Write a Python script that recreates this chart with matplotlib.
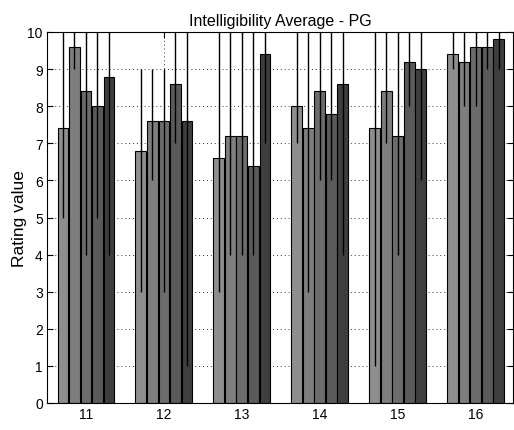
import numpy as np
import matplotlib
matplotlib.use("Agg")
import matplotlib.pyplot as plt

plt.rcParams['font.family'] = ['Liberation Sans', 'DejaVu Sans']

groups = [11, 12, 13, 14, 15, 16]
group_labels = ['11', '12', '13', '14', '15', '16']

means = [
    [7.4, 6.8, 6.6, 8.0, 7.4, 9.4],
    [9.6, 7.6, 7.2, 7.4, 8.4, 9.2],
    [8.4, 7.6, 7.2, 8.4, 7.2, 9.6],
    [8.0, 8.6, 6.4, 7.8, 9.2, 9.6],
    [8.8, 7.6, 9.4, 8.6, 9.0, 9.8],
]
lower_ends = [
    [5, 3, 3, 7, 1, 9],
    [9, 6, 4, 3, 7, 8],
    [4, 3, 4, 6, 4, 8],
    [5, 7, 4, 6, 8, 9],
    [4, 1, 7, 4, 6, 9],
]
upper_ends = [
    [10.5, 9, 10.5, 10.5, 10.5, 10.5],
    [10.5, 9, 10.5, 10.5, 10.5, 10.5],
    [10.5, 9, 10.5, 10.5, 10.5, 10.5],
    [10.5, 10.5, 10.5, 10.5, 10.5, 10.5],
    [10.5, 10.5, 10.5, 10.5, 10.5, 10.5],
]
colors = ['#8e8e8e', '#7e7e7e', '#6c6c6c', '#5a5a5a', '#3e3e3e']

fig = plt.figure(figsize=(5.14, 4.31), dpi=100)
ax = fig.add_axes([47/514, 27/431, 466/514, 371/431])

pitch = 0.148
width = 0.138
x = np.array(groups, dtype=float)
n = len(means)
for i in range(n):
    pos = x + (i - (n - 1) / 2) * pitch
    m = np.array(means[i])
    lo = m - np.array(lower_ends[i])
    hi = np.array(upper_ends[i]) - m
    ax.bar(pos, m, width=width, color=colors[i], edgecolor='black',
           linewidth=0.8, zorder=2)
    ax.errorbar(pos, m, yerr=[lo, hi], fmt='none', ecolor='black',
                elinewidth=1.0, capsize=0, zorder=3)

ax.set_xlim(10.5, 16.48)
ax.set_ylim(0, 10)
ax.set_xticks(groups)
ax.set_xticklabels(group_labels)
ax.set_yticks(range(0, 11))
ax.tick_params(direction='in', top=True, right=True, length=4, labelsize=10,
               width=0.8, pad=3)
ax.grid(True, linestyle=(0, (1, 3)), color='#333333', linewidth=0.7)
ax.set_axisbelow(True)
for s in ax.spines.values():
    s.set_linewidth(0.8)

ax.set_title('Intelligibility Average - PG', fontsize=11.5, pad=5)
ax.set_ylabel('Rating value', fontsize=12.5, labelpad=0.5)

fig.savefig('out.png', dpi=100)
